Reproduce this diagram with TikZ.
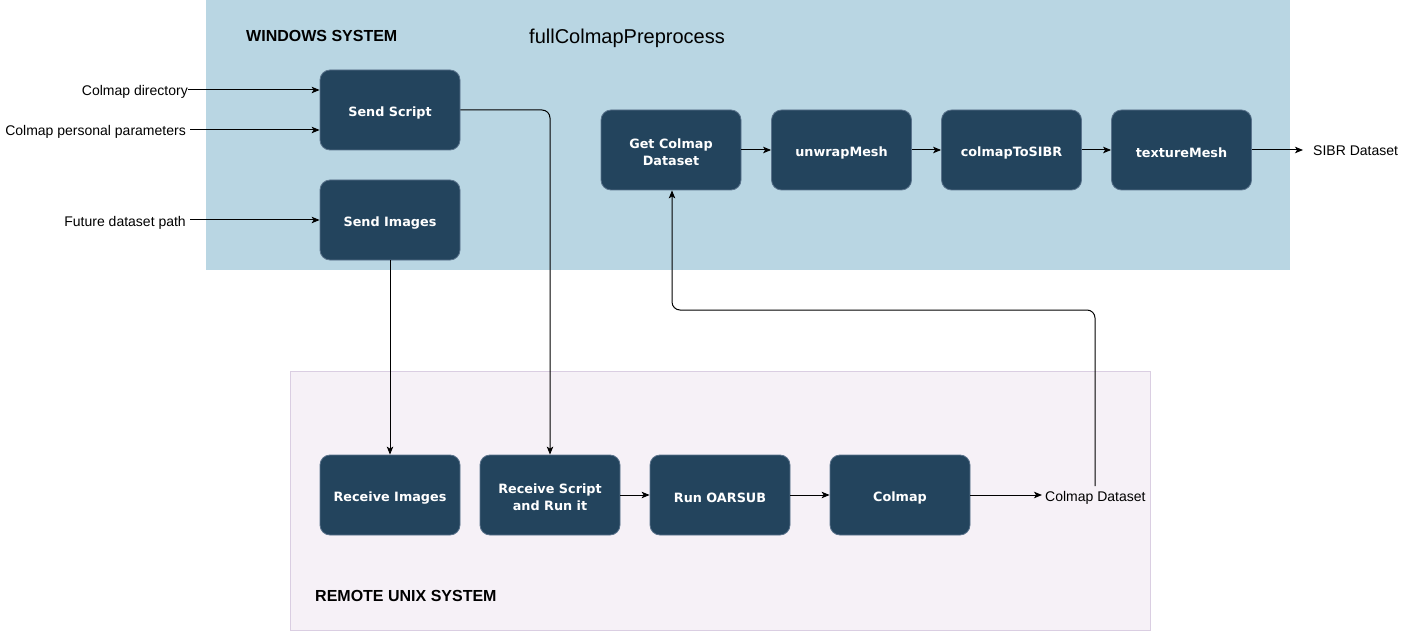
\documentclass[tikz,border=0pt]{standalone}
\usepackage{fontspec}
\setmainfont{Liberation Sans}
\newfontfamily\boxfont{DejaVu Sans}
\usetikzlibrary{arrows.meta}
\definecolor{winbg}{RGB}{185,214,227}
\definecolor{unixbg}{RGB}{246,241,247}
\definecolor{unixbd}{RGB}{218,206,226}
\definecolor{boxbg}{RGB}{35,68,93}
\definecolor{boxbd}{RGB}{90,115,140}
\begin{document}
\begin{tikzpicture}[x=1pt,y=-1pt,
  procbox/.style={draw=boxbd, line width=0.8pt, fill=boxbg, rounded corners=10pt,
    minimum width=140pt, minimum height=80pt, inner sep=0pt, align=center,
    text=white, font=\boxfont\bfseries\fontsize{12.8}{17}\selectfont,
    execute at begin node={\rule{0pt}{15.5pt}}},
  twoline/.style={execute at begin node={}},
  lbl/.style={inner sep=0pt, text height=12pt, text depth=0pt, font=\fontsize{14}{16}\selectfont},
  conn/.style={line width=1pt, -{Stealth[length=8pt,width=6.5pt,inset=2pt]}},
  title/.style={inner sep=0pt, anchor=west, font=\bfseries\fontsize{16}{18}\selectfont}]
\useasboundingbox (0,0) rectangle (1411,631);
\fill[winbg] (206,0) rectangle (1290,270);
\draw[fill=unixbg, draw=unixbd, line width=0.8pt] (290.5,371) rectangle (1150,630);
\node[title] (wintitle) at (246,36) {WINDOWS SYSTEM};
\node[inner sep=0pt, anchor=west, font=\fontsize{20}{22}\selectfont] (proc) at (529,38) {fullColmapPreprocess};
\node[title] (unixtitle) at (315,596) {REMOTE UNIX SYSTEM};

\node[procbox] (sendscript) at (390,110) {Send Script};
\node[procbox] (sendimages) at (390,220) {Send Images};
\node[procbox, twoline] (getcolmap) at (671,150) {\rule{0pt}{14pt}Get Colmap\\Dataset};
\node[procbox] (unwrap) at (841.5,150) {unwrapMesh};
\node[procbox] (tosibr) at (1011.5,150) {colmapToSIBR};
\node[procbox] (texture) at (1181.5,150) {textureMesh};
\node[procbox] (recvimages) at (390,495) {Receive Images};
\node[procbox, twoline] (recvscript) at (550,495) {\rule{0pt}{14pt}Receive Script\\and Run it};
\node[procbox] (oarsub) at (720,495) {Run OARSUB};
\node[procbox] (colmap) at (900,495) {Colmap};

\node[lbl, anchor=east] (cdir) at (188,90) {Colmap directory};
\node[lbl, anchor=east] (cpar) at (186,130) {Colmap personal parameters};
\node[lbl, anchor=east] (fpath) at (186,220) {Future dataset path};
\node[lbl, anchor=west] (sibr) at (1313,150) {SIBR Dataset};
\node[lbl, anchor=west] (cdata) at (1045,495) {Colmap Dataset};

\draw[conn] (cdir.east) -- (cdir.east -| sendscript.west);
\draw[conn] ([xshift=4pt]cpar.east) -- (cpar.east -| sendscript.west);
\draw[conn] ([xshift=4pt]fpath.east) -- (fpath.east -| sendimages.west);
\draw[conn] (getcolmap) -- (unwrap);
\draw[conn] (unwrap) -- (tosibr);
\draw[conn] (tosibr) -- (texture);
\draw[conn] (texture.east) -- ([xshift=-10pt]sibr.west);
\draw[conn] (recvscript) -- (oarsub);
\draw[conn] (oarsub) -- (colmap);
\draw[conn] (colmap.east) -- ([xshift=-3pt]cdata.west);
\draw[conn] (sendimages.south) -- (recvimages.north);
\draw[conn, rounded corners=8pt] (sendscript.east) -- (550,110) -- (recvscript.north);
\draw[conn, rounded corners=8pt] (1095,486) -- (1095,310) -- (672,310) -- (getcolmap.south -| 672,0);
\end{tikzpicture}
\end{document}
